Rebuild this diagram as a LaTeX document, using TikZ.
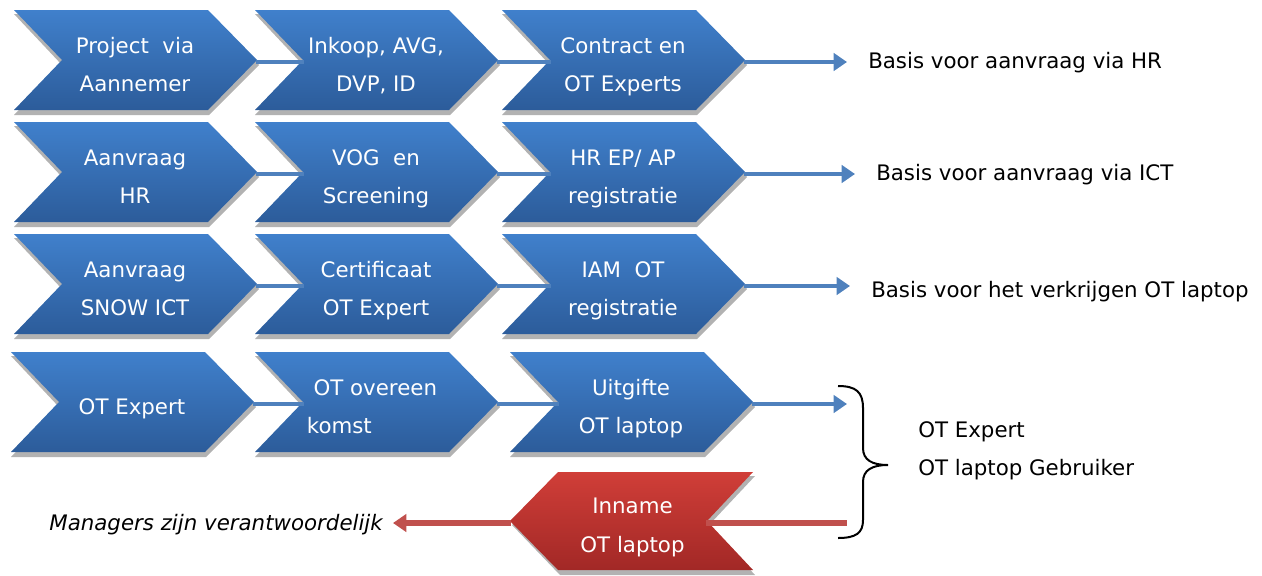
\documentclass[tikz,border=0pt]{standalone}
\usepackage{fontspec}
\setmainfont{DejaVu Sans}
\usetikzlibrary{arrows.meta}
\definecolor{bluetop}{RGB}{64,128,204}
\definecolor{bluebot}{RGB}{44,92,154}
\definecolor{redtop}{RGB}{208,62,56}
\definecolor{redbot}{RGB}{162,40,38}
\definecolor{blinec}{RGB}{79,129,189}
\definecolor{rlinec}{RGB}{192,80,77}
\tikzset{
 chevtext/.style={text=white, align=center, inner sep=0pt, font=\fontsize{16}{29}\selectfont},
 lbl/.style={text=black, inner sep=0pt, font=\fontsize{16}{28.5}\selectfont},
 blink/.style={draw=blinec, line width=3.5pt},
 bout/.style={blink, -{Triangle[length=10pt,width=13pt]}},
 rlink/.style={draw=rlinec, line width=4pt},
 shadowfill/.style={fill=black, opacity=0.3},
}
\newcommand\bluechev[5]{%
 \begin{scope}[shift={(#2,#3)}]
  \fill[shadowfill] (0,4) -- (195,4) -- (245,55) -- (195,105) -- (0,105) -- (48,55) -- cycle;
  \shade[top color=bluetop, bottom color=bluebot] (0,0) -- (194,0) -- (243,50) -- (194,100) -- (0,100) -- (48,50) -- cycle;
  \coordinate (#1-tip) at (242,52);
  \coordinate (#1-notch) at (49,52);
  \node[chevtext,#4] (#1) at (121,54.6) {#5};
 \end{scope}}
\begin{document}
\begin{tikzpicture}[x=0.75pt,y=-0.75pt]
\useasboundingbox (0,0) rectangle (1262,575);
% row 1
\bluechev{r1a}{14}{10}{}{\strut Project\ \ via\\\strut Aannemer}
\bluechev{r1b}{255}{10}{}{\strut Inkoop, AVG,\\\strut DVP, ID}
\bluechev{r1c}{502}{10}{}{\strut Contract en\\\strut OT Experts}
% row 2
\bluechev{r2a}{14}{122}{}{\strut Aanvraag\\\strut HR}
\bluechev{r2b}{255}{122}{}{\strut VOG\ \ en\\\strut Screening}
\bluechev{r2c}{502}{122}{}{\strut HR EP/ AP\\\strut registratie}
% row 3
\bluechev{r3a}{14}{234}{}{\strut Aanvraag\\\strut SNOW ICT}
\bluechev{r3b}{255}{234}{}{\strut Certificaat\\\strut OT Expert}
\bluechev{r3c}{502}{234}{}{\strut IAM\ \ OT\\\strut registratie}
% row 4
\bluechev{r4a}{11}{352}{}{\strut OT Expert}
\bluechev{r4b}{255}{352}{align=left,xshift=-3pt}{\strut\hspace*{5pt}OT overeen\\\strut komst}
\bluechev{r4c}{510}{352}{}{\strut Uitgifte\\\strut OT laptop}
% links between chevrons
\draw[blink] (r1a-tip) -- (r1b-notch);
\draw[blink] (r1b-tip) -- (r1c-notch);
\draw[blink] (r2a-tip) -- (r2b-notch);
\draw[blink] (r2b-tip) -- (r2c-notch);
\draw[blink] (r3a-tip) -- (r3b-notch);
\draw[blink] (r3b-tip) -- (r3c-notch);
\draw[blink] (r4a-tip) -- (r4b-notch);
\draw[blink] (r4b-tip) -- (r4c-notch);
% outputs
\node[lbl, anchor=base west] (t1) at (868,68) {Basis voor aanvraag via HR};
\node[lbl, anchor=base west] (t2) at (876,180) {Basis voor aanvraag via ICT};
\node[lbl, anchor=base west] (t3) at (871,297) {Basis voor het verkrijgen OT laptop};
\draw[bout, shorten >=15.75pt] (r1c-tip) -- (r1c-tip -| t1.west);
\draw[bout, shorten >=15.75pt] (r2c-tip) -- (r2c-tip -| t2.west);
\draw[bout, shorten >=15.75pt] (r3c-tip) -- (r3c-tip -| t3.west);
\coordinate (b4) at (847,404);
\draw[bout] (r4c-tip) -- (r4c-tip -| b4);
% red chevron
\begin{scope}[shift={(510,472)}]
 \fill[shadowfill] (2,53) -- (50,4) -- (245,4) -- (199,53) -- (245,103) -- (50,103) -- cycle;
 \shade[top color=redtop,bottom color=redbot] (0,49) -- (48,0) -- (243,0) -- (197,49) -- (243,98) -- (48,98) -- cycle;
 \coordinate (red-tip) at (1,51);
 \coordinate (red-notch) at (196,51);
 \node[chevtext] (red) at (122.5,53) {\strut Inname\\\strut OT laptop};
\end{scope}
\coordinate (rend) at (847,523);
\draw[rlink] (red-notch) -- (red-notch -| rend);
\node[lbl, anchor=base east, font=\itshape\fontsize{16}{28.5}\selectfont] (mgr) at (383,530) {Managers zijn verantwoordelijk};
\draw[rlink, -{Triangle[length=10pt,width=13pt]}, shorten >=7.5pt] (red-tip) -- (red-tip -| mgr.east);
% brace
\draw[line width=1.5pt] (838,386) .. controls (856,386) and (863,392) .. (863,408) -- (863,448) .. controls (863,460) and (872,465) .. (888,465) .. controls (872,465) and (863,470) .. (863,482) -- (863,520) .. controls (863,533) and (856,538) .. (838,538);
\node[lbl, align=left, anchor=west] (who) at (918,449) {\strut OT Expert\\\strut OT laptop Gebruiker};
\end{tikzpicture}
\end{document}
